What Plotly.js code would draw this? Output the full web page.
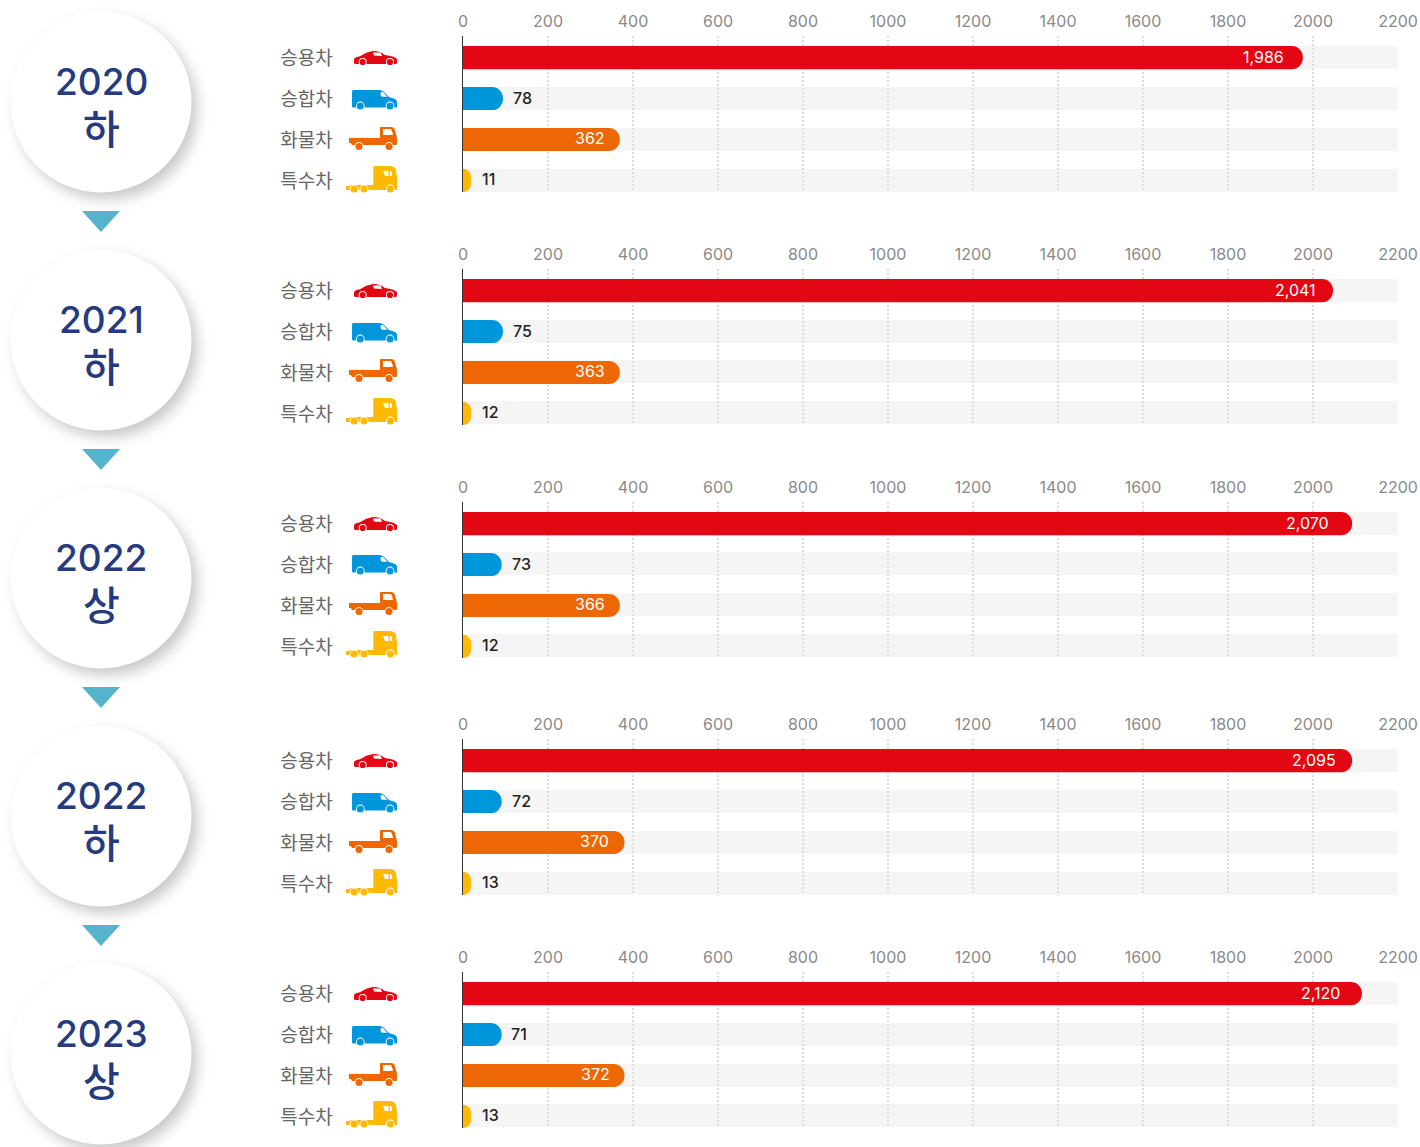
<!DOCTYPE html>
<html><head><meta charset="utf-8">
<script src="https://cdn.plot.ly/plotly-3.0.1.min.js"></script>
<style>html,body{margin:0;padding:0;background:#fff;overflow:hidden}#c{width:1420px;height:1147px}</style>
</head><body><div id="c"></div>
<script>
const periods = [["2020","하"],["2021","하"],["2022","상"],["2022","하"],["2023","상"]];
const categories = ["승용차","승합차","화물차","특수차"];
const colors = ["#e30613","#0096db","#ee6705","#ffb900"];
const values2020H = [1986,78,362,11];
const values2021H = [2041,75,363,12];
const values2022S = [2070,73,366,12];
const values2022H = [2095,72,370,13];
const values2023S = [2120,71,372,13];
const allValues = [values2020H,values2021H,values2022S,values2022H,values2023S];
// lengths of the drawn bars as read against the axis of the picture
const drawn2020H = [1976,94,369,19];
const drawn2021H = [2047,94,369,19];
const drawn2022S = [2092,91,369,19];
const drawn2022H = [2092,91,380,19];
const drawn2023S = [2115,91,380,19];
const allDrawn = [drawn2020H,drawn2021H,drawn2022S,drawn2022H,drawn2023S];
const tickVals = [0,200,400,600,800,1000,1200,1400,1600,1800,2000,2200];

const W=1420,H=1147,FONT='Inter,"Noto Sans CJK KR",sans-serif',KR='"Noto Sans CJK KR",sans-serif';
const panelTop=[36,269,502,739,972], circleY=[102,340,578,816,1054];
const rowOffset=[[21,62,103,144],[21,62,102,143],[21,61,102,143],[21,62,103,144],[21,62,103,143]];
const labelShift=[[-17,8,-13,9],[-15,8,-13,9],[-21,8,-13,9],[-14,8,-14,9],[-20,7,-13,9]];
const PH=156, left=463, right=1398;
const px=x=>x/W, py=y=>1-y/H;
const uri=s=>"data:image/svg+xml;charset=utf-8,"+encodeURIComponent(s);

function icon(kind,c){
  const w=(x,y,r=4.4)=>`<circle cx="${x}" cy="${y}" r="${r}" fill="#fff"/><circle cx="${x}" cy="${y}" r="${r-0.9}" fill="${c}"/>`;
  let b="";
  if(kind===0) b=`<path fill="${c}" d="M12 20V16Q13 14 18 13.2Q24 9 31 8Q37 7.6 43 12Q52 13 55 16V19.5Q55 21 53 21H14Q12 21 12 20Z"/><path fill="#fff" d="M31 9.5L38.5 9.5L40 13L32 12.4Z"/>`+w(20.7,19,4)+w(48,19,4);
  if(kind===1) b=`<path fill="${c}" d="M11.5 6H37Q40 6 42 8L47 13L53 15Q55 16 55 18V23.5H11Q10 23.5 10 22.5V7.5Q10 6 11.5 6Z"/><path fill="#fff" d="M38.7 8H41L45.3 12.7H40.5Q38.7 12.7 38.7 11Z"/>`+w(18.3,22)+w(48,22);
  if(kind===2) b=`<path fill="${c}" d="M7 13H38V3Q38 2 39 2H49Q52 2 53 5L55 13V19Q55 20 54 20H10Q9 19 9 18H7Z"/><path fill="#fff" d="M41 4H48Q49.5 4 50 6L51 10H41Z"/>`+w(17,21.5)+w(47,21.5);
  if(kind===3) b=`<path fill="${c}" d="M31.3 1Q31.3 0 33 0H47Q53 0 54 4L55 12V24H4V21Q4 20 5 20H8V19H31.3Z"/><path fill="#fff" d="M41 5H46L47 10H43Z"/><path fill="#fff" d="M47.3 5H48.5Q50 5 50 7V10H48.2Z"/>`+w(12,23)+w(22,23)+w(48.3,23);
  return uri(`<svg xmlns="http://www.w3.org/2000/svg" width="56" height="28" viewBox="0 0 56 28">${b}</svg>`);
}
const disc=uri(`<svg xmlns="http://www.w3.org/2000/svg" width="240" height="240" viewBox="0 0 240 240"><defs><filter id="f" x="-30%" y="-30%" width="160%" height="160%"><feGaussianBlur stdDeviation="7"/></filter></defs><circle cx="121" cy="122" r="90" fill="#000" fill-opacity=".22" filter="url(#f)"/><circle cx="115" cy="115" r="90.5" fill="#fff"/></svg>`);

const traces=[],layout={width:W,height:H,margin:{l:0,r:0,t:0,b:0},paper_bgcolor:"#fff",plot_bgcolor:"rgba(0,0,0,0)",
  showlegend:false,barmode:"overlay",barcornerradius:12,font:{family:FONT},shapes:[],annotations:[],images:[]};

periods.forEach((p,i)=>{
  const n=i?i+1:"", top=panelTop[i];
  const xa="xaxis"+n, ya="yaxis"+n, xr="x"+n, yr="y"+n;
  traces.push({type:"bar",orientation:"h",x:allDrawn[i],y:categories,xaxis:xr,yaxis:yr,width:0.565,
    marker:{color:colors,line:{width:0}},hoverinfo:"skip",cliponaxis:false});
  layout[xa]={domain:[px(left),px(right)],range:[0,2200],anchor:yr,side:"top",tickmode:"array",tickvals:tickVals,
    ticks:"",showline:false,zeroline:false,showgrid:true,gridcolor:"#dcdcdc",griddash:"2px,2px",gridwidth:2,
    tickfont:{family:FONT,size:16,color:"#8a8a8a"},ticklabelstandoff:5,fixedrange:true};
  layout[ya]={domain:[py(top+PH),py(top)],anchor:xr,type:"category",categoryorder:"array",categoryarray:categories,
    range:[3.283,-0.528],showgrid:false,zeroline:false,showline:true,linecolor:"#333",linewidth:1.5,ticks:"",
    tickfont:{family:KR,size:19,color:"#666"},ticklabelstandoff:125,ticklabelshift:-1,fixedrange:true};
  categories.forEach((c,r)=>{
    const cy=top+rowOffset[i][r];
    layout.shapes.push({type:"rect",layer:"below",xref:xr,x0:0,x1:2200,yref:"paper",y0:py(cy-11),y1:py(cy+12),
      fillcolor:"#f5f5f5",line:{width:0}});
    layout.images.push({source:icon(r,colors[r]),xref:"paper",yref:"paper",x:px(342),y:py(cy-14),sizex:56/W,sizey:28/H,
      xanchor:"left",yanchor:"top",sizing:"stretch",layer:"above"});
    const big=r===0||r===2;
    layout.annotations.push({xref:xr,yref:yr,x:allDrawn[i][r],y:c,text:allValues[i][r].toLocaleString("en-US"),showarrow:false,
      xanchor:big?"right":"left",xshift:labelShift[i][r],yshift:1,
      font:{family:FONT,size:16,color:big?"#fff":"#222",weight:big?400:500}});
  });
  const cy=circleY[i];
  layout.images.push({source:disc,xref:"paper",yref:"paper",x:px(101-115),y:py(cy-115),sizex:240/W,sizey:240/H,
    xanchor:"left",yanchor:"top",sizing:"stretch",layer:"below"});
  layout.annotations.push({xref:"paper",yref:"paper",x:px(101),y:py(cy-21),xanchor:"center",yanchor:"middle",text:p[0],showarrow:false,font:{family:FONT,size:37,weight:500,color:"#253a7f"}});
  layout.annotations.push({xref:"paper",yref:"paper",x:px(101),y:py(cy+25),xanchor:"center",yanchor:"middle",text:p[1],showarrow:false,font:{family:KR,size:40,weight:500,color:"#253a7f"}});
  if(i<4){
    const t=cy+109;
    const f=(x,y)=>px(x).toFixed(5)+" "+py(y).toFixed(5);
    layout.shapes.push({type:"path",xref:"paper",yref:"paper",layer:"above",path:`M${f(82,t)} L${f(120,t)} L${f(101,t+21)} Z`,fillcolor:"#55b3cb",line:{width:0}});
  }
});
Plotly.newPlot("c",traces,layout,{displayModeBar:false,staticPlot:true});
</script></body></html>
